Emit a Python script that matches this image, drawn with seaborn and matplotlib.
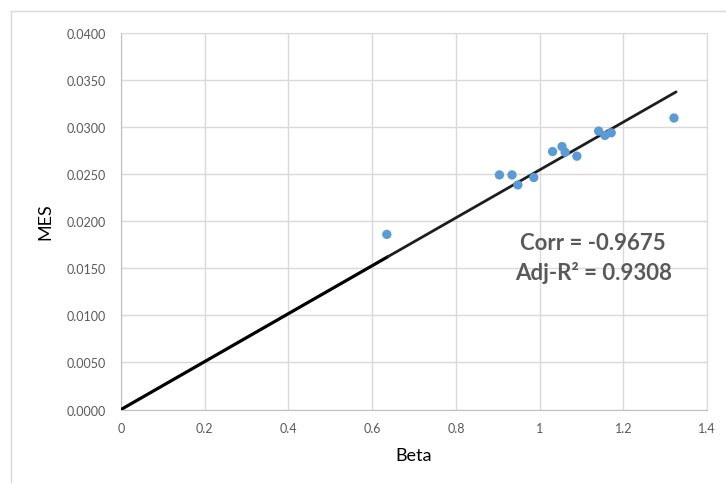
import matplotlib
matplotlib.use("Agg")
import matplotlib.pyplot as plt
import seaborn as sns
import pandas as pd
from matplotlib.lines import Line2D

# ===== DATA =====
beta = [0.635, 0.904, 0.934, 0.948, 0.986, 1.031, 1.0535, 1.061, 1.089, 1.141, 1.156, 1.171, 1.321]
mes = [0.01858, 0.02489, 0.02489, 0.02383, 0.02461, 0.02737, 0.0279, 0.0273, 0.02688, 0.02954, 0.02908, 0.02936, 0.03093]

fit_x_low = [0.0, 0.637]
fit_y_low = [0.0, 0.0162]
fit_x_high = [0.637, 1.326]
fit_y_high = [0.0162, 0.0337]

x_ticks = [0, 0.2, 0.4, 0.6, 0.8, 1.0, 1.2, 1.4]
x_labels = ["0", "0.2", "0.4", "0.6", "0.8", "1", "1.2", "1.4"]
y_ticks = [0.0, 0.005, 0.01, 0.015, 0.02, 0.025, 0.03, 0.035, 0.04]

stats_text = "Corr = -0.9675\nAdj-R\u00b2 = 0.9308"

# ===== STYLE =====
sns.set_style("white")
plt.rcParams["font.family"] = ["Lato", "DejaVu Sans"]

df = pd.DataFrame({"Beta": beta, "MES": mes})

fig = plt.figure(figsize=(7.26, 4.85), dpi=100)
ax = fig.add_axes([0.1667, 0.1536, 0.8072, 0.7773])

# chart border (like the spreadsheet chart frame)
fig.add_artist(Line2D([11 / 726, 11 / 726], [2 / 485, 473 / 485], color="#d9d9d9", lw=1))
fig.add_artist(Line2D([11 / 726, 1.0], [473 / 485, 473 / 485], color="#d9d9d9", lw=1))

# trend line
sns.lineplot(x=fit_x_low, y=fit_y_low, ax=ax, color="black", lw=2.3, zorder=3)
sns.lineplot(x=fit_x_high, y=fit_y_high, ax=ax, color="#1e1e1e", lw=2.0, zorder=3)

sns.scatterplot(data=df, x="Beta", y="MES", ax=ax, color="#5b9bd5", s=45,
                edgecolor="none", zorder=4)

ax.set_xlim(0, 1.4)
ax.set_ylim(0, 0.04)
ax.set_xticks(x_ticks)
ax.set_xticklabels(x_labels)
ax.set_yticks(y_ticks)
ax.set_yticklabels([f"{v:.4f}" for v in y_ticks])
ax.tick_params(axis="both", labelsize=9, colors="#595959", length=0)
ax.tick_params(axis="x", pad=9)
ax.tick_params(axis="y", pad=11)

ax.grid(True, color="#d9d9d9", lw=1)
ax.set_axisbelow(True)
for side in ["top", "right"]:
    ax.spines[side].set_visible(True)
    ax.spines[side].set_color("#d9d9d9")
for side in ["left", "bottom"]:
    ax.spines[side].set_color("#bfbfbf")

ax.set_xlabel("Beta", fontsize=13, color="black", labelpad=9)
ax.set_ylabel("MES", fontsize=13, color="black", labelpad=9)

ax.text(1.128, 0.01617, stats_text, ha="center", va="center", fontsize=16,
        fontweight="bold", color="#595959", linespacing=1.45)

fig.savefig("out.png", dpi=100)
